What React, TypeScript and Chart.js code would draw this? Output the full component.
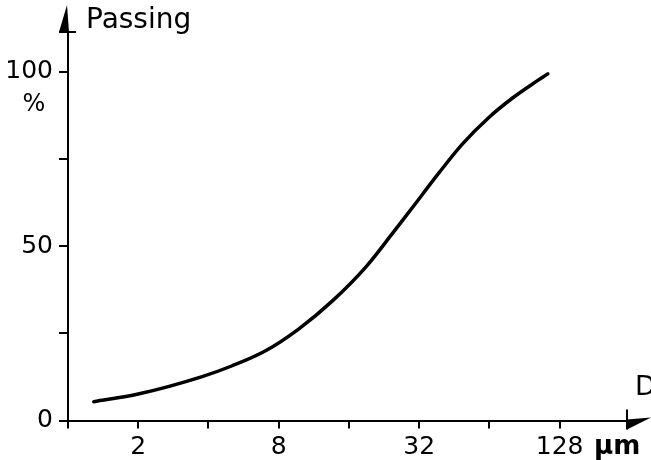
import React, { useEffect, useRef } from "react";
import { Chart, registerables } from "chart.js";
Chart.register(...registerables);

// Particle diameter (µm) and cumulative passing (%)
const diametersUm = [1.29, 2, 3.76, 5.06, 7.03, 9.77, 13.6, 18.9, 24.5, 29.9, 38.9, 48.9, 63.7, 80.2, 101, 114];
const passingPct = [5.4, 7.6, 12.6, 15.7, 20.0, 26.3, 34.3, 44.0, 53.5, 61.0, 71.0, 79.2, 86.9, 92.4, 97.1, 99.4];

const xTickDiameters = [1, 2, 4, 8, 16, 32, 64, 128];
const xTickLabels = ["", "2", "", "8", "", "32", "", "128"];
const yTickValues = [0, 25, 50, 75, 100];
const yTickLabels = ["0", "", "50", "", "100"];

const FONT = '"DejaVu Sans", Arial, Helvetica, sans-serif';

const decor = {
  id: "decor",
  afterDraw(chart: any) {
    const { ctx, chartArea: a } = chart;
    const ax = a.left;
    const ay = a.bottom;
    ctx.save();
    ctx.fillStyle = "#000";
    ctx.strokeStyle = "#000";
    // y-axis arrow
    ctx.beginPath();
    ctx.moveTo(ax - 1, 5);
    ctx.lineTo(ax - 9, a.top);
    ctx.lineTo(ax + 1, a.top);
    ctx.closePath();
    ctx.fill();
    ctx.lineWidth = 2;
    ctx.beginPath();
    ctx.moveTo(ax - 9, a.top);
    ctx.lineTo(ax + 8, a.top);
    ctx.stroke();
    // x-axis arrow
    ctx.beginPath();
    ctx.moveTo(a.right, ay - 1);
    ctx.lineTo(651, ay - 3);
    ctx.lineTo(a.right, ay + 9);
    ctx.closePath();
    ctx.fill();
    ctx.beginPath();
    ctx.moveTo(a.right, ay - 11);
    ctx.lineTo(a.right, ay + 9);
    ctx.stroke();
    // texts
    ctx.textBaseline = "alphabetic";
    ctx.textAlign = "left";
    ctx.font = `28px ${FONT}`;
    ctx.fillText("Passing", 86, 28);
    ctx.font = `24px ${FONT}`;
    ctx.textAlign = "center";
    ctx.fillText("%", 34, 111);
    ctx.textAlign = "left";
    ctx.font = `27px ${FONT}`;
    ctx.fillText("D", 635, 395);
    ctx.font = `bold 26px ${FONT}`;
    ctx.fillText("µm", 594, 454);
    ctx.restore();
  },
};

export default function App() {
  const ref = useRef<HTMLCanvasElement | null>(null);
  useEffect(() => {
    document.body.style.margin = "0";
    if (!ref.current) return;
    const logTicks = xTickDiameters.map((d) => Math.log2(d));
    const chart = new Chart(ref.current, {
      type: "line",
      data: {
        datasets: [
          {
            data: diametersUm.map((d, i) => ({ x: Math.log2(d), y: passingPct[i] })),
            borderColor: "#000",
            borderWidth: 3.5,
            pointRadius: 0,
            cubicInterpolationMode: "monotone",
            borderCapStyle: "round",
            fill: false,
          },
        ],
      },
      options: {
        responsive: false,
        animation: false,
        devicePixelRatio: 1,
        layout: { padding: { top: 32, right: 24, left: 0, bottom: 0 } },
        plugins: { legend: { display: false }, tooltip: { enabled: false } },
        scales: {
          x: {
            type: "linear",
            min: 0,
            max: 7.96,
            afterFit: (s: any) => {
              s.height = 39.5;
            },
            afterBuildTicks: (s: any) => {
              s.ticks = logTicks.map((v) => ({ value: v }));
            },
            grid: {
              display: true,
              drawOnChartArea: false,
              drawTicks: true,
              tickLength: 8,
              lineWidth: 2,
              color: "#000",
            },
            border: { display: true, color: "#000", width: 2 },
            ticks: {
              color: "#000",
              padding: 4,
              maxRotation: 0,
              autoSkip: false,
              font: { family: FONT, size: 25 },
              callback: (v: any) => {
                const i = logTicks.findIndex((t) => Math.abs(t - Number(v)) < 1e-6);
                return i >= 0 ? xTickLabels[i] : "";
              },
            },
          },
          y: {
            type: "linear",
            min: 0,
            max: 111.4,
            afterFit: (s: any) => {
              s.width = 68;
            },
            afterBuildTicks: (s: any) => {
              s.ticks = yTickValues.map((v) => ({ value: v }));
            },
            grid: {
              display: true,
              drawOnChartArea: false,
              drawTicks: true,
              tickLength: 9,
              lineWidth: 2,
              color: "#000",
            },
            border: { display: true, color: "#000", width: 2 },
            ticks: {
              color: "#000",
              padding: 6,
              autoSkip: false,
              font: { family: FONT, size: 25 },
              callback: (v: any) => {
                const i = yTickValues.indexOf(Number(v));
                return i >= 0 ? yTickLabels[i] : "";
              },
            },
          },
        },
      },
      plugins: [decor],
    } as any);
    return () => chart.destroy();
  }, []);
  return (
    <div style={{ width: 651, height: 460 }}>
      <canvas ref={ref} width={651} height={460} />
    </div>
  );
}
